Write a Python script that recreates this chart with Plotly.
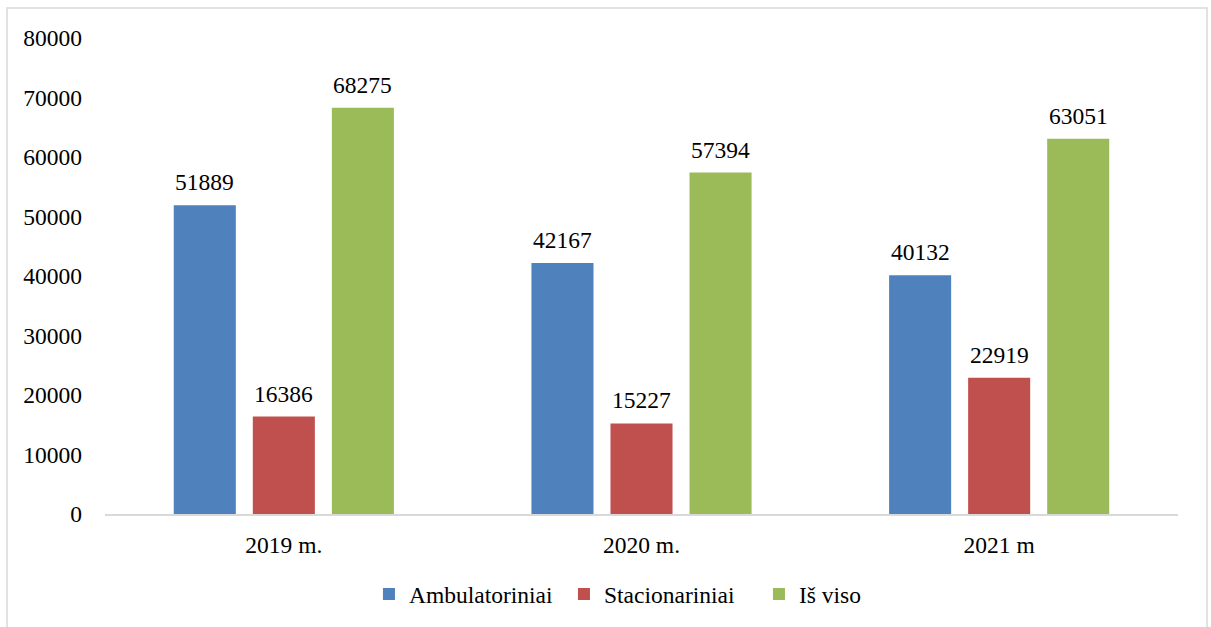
import plotly.graph_objects as go

categories = ["2019 m.", "2020 m.", "2021 m"]
ambulatoriniai = [51889, 42167, 40132]
stacionariniai = [16386, 15227, 22919]
is_viso = [68275, 57394, 63051]
series_names = ["Ambulatoriniai", "Stacionariniai", "Iš viso"]
y_ticks = [0, 10000, 20000, 30000, 40000, 50000, 60000, 70000, 80000]

colors = ["#4F81BD", "#C0504D", "#9BBB59"]
font_family = "Liberation Serif"
fs = 23.5

fig = go.Figure()
all_series = [ambulatoriniai, stacionariniai, is_viso]
for name, vals, col in zip(series_names, all_series, colors):
    fig.add_trace(go.Bar(name=name, x=categories, y=vals, marker_color=col,
                         marker_line_width=0))

# data labels
shifts = [-79, 0, 79]
for vals, sh in zip(all_series, shifts):
    for c, v in zip(categories, vals):
        fig.add_annotation(x=c, y=v, xref="x", yref="y", text=str(v),
                           showarrow=False, yanchor="bottom", xshift=sh, yshift=8,
                           font=dict(family=font_family, size=fs, color="#000000"))

W, H = 1211, 627
l, r, t, b = 105, 33, 38, 112
pw, ph = W - l - r, H - t - b

# outer border
fig.add_shape(type="rect", xref="paper", yref="paper",
              x0=(7 - l) / pw, x1=(1207 - l) / pw,
              y0=-(H - t - ph + 20) / ph, y1=(H - b - 8) / ph,
              line=dict(color="#D9D9D9", width=1.5), layer="below")

fig.update_layout(
    width=W, height=H,
    margin=dict(l=l, r=r, t=t, b=b),
    paper_bgcolor="white", plot_bgcolor="white",
    barmode="group", bargap=0.337, bargroupgap=0.215,
    font=dict(family=font_family, size=fs, color="#000000"),
    showlegend=True,
    legend=dict(orientation="h", x=0.5186, xanchor="center", y=-0.166, yanchor="middle",
                entrywidth=150, entrywidthmode="pixels",
                font=dict(family=font_family, size=fs, color="#000000")),
    xaxis=dict(showline=True, linecolor="#D9D9D9", linewidth=2, ticks="",
               showgrid=False, tickfont=dict(family=font_family, size=fs),
               ticklabelstandoff=9),
    yaxis=dict(range=[0, 80000], tickvals=y_ticks, tickformat="d", showgrid=False,
               zeroline=False, showline=False, ticks="",
               tickfont=dict(family=font_family, size=fs), ticklabelstandoff=22),
)

fig.write_html("out.html", config={"displayModeBar": False},
               post_script="document.body.style.margin='0';document.body.style.padding='0';")
